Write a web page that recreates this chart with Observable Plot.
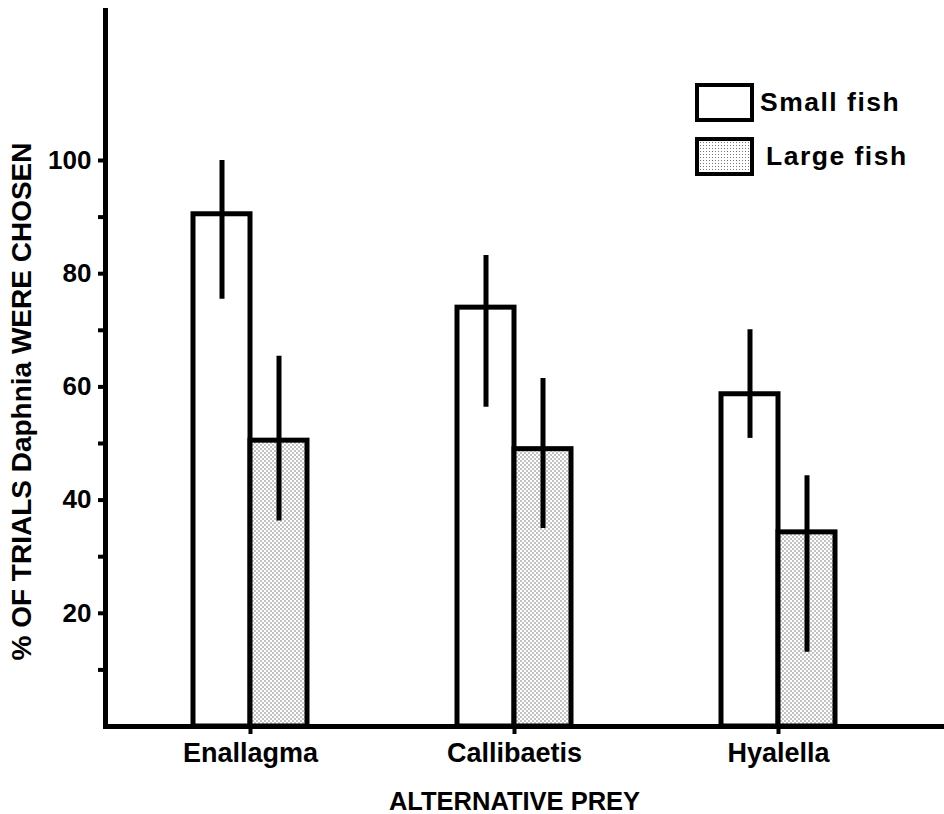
<!DOCTYPE html>
<html>
<head>
<meta charset="utf-8">
<script src="https://cdn.jsdelivr.net/npm/d3@7"></script>
<script src="https://cdn.jsdelivr.net/npm/@observablehq/plot@0.6"></script>
<style>
  html, body { margin: 0; padding: 0; background: #fff; }
  #wrap { position: relative; width: 944px; height: 814px; font-family: "Liberation Sans", Arial, sans-serif; }
  #legend { position: absolute; left: 695px; top: 82px; font-weight: bold; font-size: 26.5px; letter-spacing: 1.5px; color: #000; }
  .item { display: flex; align-items: center; height: 40px; margin-bottom: 14px; }
  .sw { width: 51px; height: 31px; border: 4.5px solid #000; margin-right: 6px; box-sizing: content-box; }
  .sw.small { background: #fff; }
  .sw.large { background-color: #fff; background-image: radial-gradient(#777 0.8px, transparent 1px); background-size: 3px 3px; }
</style>
</head>
<body>
<div id="wrap">
  <div id="chart"></div>
  <div id="legend">
    <div class="item"><div class="sw small"></div><span>Small fish</span></div>
    <div class="item"><div class="sw large"></div><span style="margin-left:6px">Large fish</span></div>
  </div>
</div>
<script>
const prey = ["Enallagma", "Callibaetis", "Hyalella"];
const smallFish = [90.5, 74, 58.7];
const smallLow = [75.5, 56.4, 50.9];
const smallHigh = [100, 83.2, 70.1];
const largeFish = [50.5, 49, 34.3];
const largeLow = [36.3, 35, 13.1];
const largeHigh = [65.4, 61.5, 44.3];
const yTicks = [10, 20, 30, 40, 50, 60, 70, 80, 90, 100];
const yTickLabels = ["", "20", "", "40", "", "60", "", "80", "", "100"];

const small = prey.map((p, i) => ({prey: p, v: smallFish[i], lo: smallLow[i], hi: smallHigh[i]}));
const large = prey.map((p, i) => ({prey: p, v: largeFish[i], lo: largeLow[i], hi: largeHigh[i]}));

const font = "Liberation Sans, Arial, sans-serif";

const chart = Plot.plot({
  width: 944,
  height: 814,
  marginLeft: 105,
  marginRight: 0,
  marginTop: 10,
  marginBottom: 88,
  style: {fontFamily: font, fontWeight: "bold", fontSize: "26px", color: "#000", background: "#fff"},
  x: {domain: prey, paddingInner: 0.568, paddingOuter: 0.373, align: 0.447, label: null},
  y: {domain: [0, 126.5], label: null},
  marks: [
    () => {
      const svg = d3.create("svg:defs");
      const pat = svg.append("pattern").attr("id", "stipple").attr("width", 4).attr("height", 4).attr("patternUnits", "userSpaceOnUse");
      pat.append("rect").attr("width", 4).attr("height", 4).attr("fill", "#fff");
      pat.append("circle").attr("cx", 1).attr("cy", 1).attr("r", 0.75).attr("fill", "#666");
      pat.append("circle").attr("cx", 3).attr("cy", 3).attr("r", 0.75).attr("fill", "#666");
      return svg.node();
    },
    Plot.barY(small, {x: "prey", y: "v", fill: "#fff", stroke: "#000", strokeWidth: 5, insetRight: 57, insetLeft: 0}),
    Plot.barY(large, {x: "prey", y: "v", fill: "url(#stipple)", stroke: "#000", strokeWidth: 5, insetLeft: 57, insetRight: 0}),
    Plot.ruleX(small, {x: "prey", y1: "lo", y2: "hi", dx: -28.5, stroke: "#000", strokeWidth: 5}),
    Plot.ruleX(large, {x: "prey", y1: "lo", y2: "hi", dx: 28.5, stroke: "#000", strokeWidth: 5}),
    Plot.axisY({ticks: yTicks, tickFormat: (d, i) => yTickLabels[i], tickSize: 7, tickPadding: 7, strokeWidth: 4, fontSize: 26, fontWeight: "bold", label: null}),
    Plot.axisX({tickSize: 8, tickPadding: 8, strokeWidth: 4, fontSize: 27, fontWeight: "bold", label: null}),
    Plot.ruleY([0], {stroke: "#000", strokeWidth: 5}),
    Plot.frame({anchor: "left", stroke: "#000", strokeWidth: 5}),
    Plot.text(["ALTERNATIVE PREY"], {frameAnchor: "bottom", x: () => prey[1], dy: 83, fontSize: 25.5, fontWeight: "bold", textAnchor: "middle"}),
    Plot.text(["% OF TRIALS Daphnia WERE CHOSEN"], {frameAnchor: "left", dx: -83, dy: 33, rotate: -90, fontSize: 28, fontWeight: "bold", textAnchor: "middle"})
  ]
});
document.getElementById("chart").appendChild(chart);
</script>
</body>
</html>
